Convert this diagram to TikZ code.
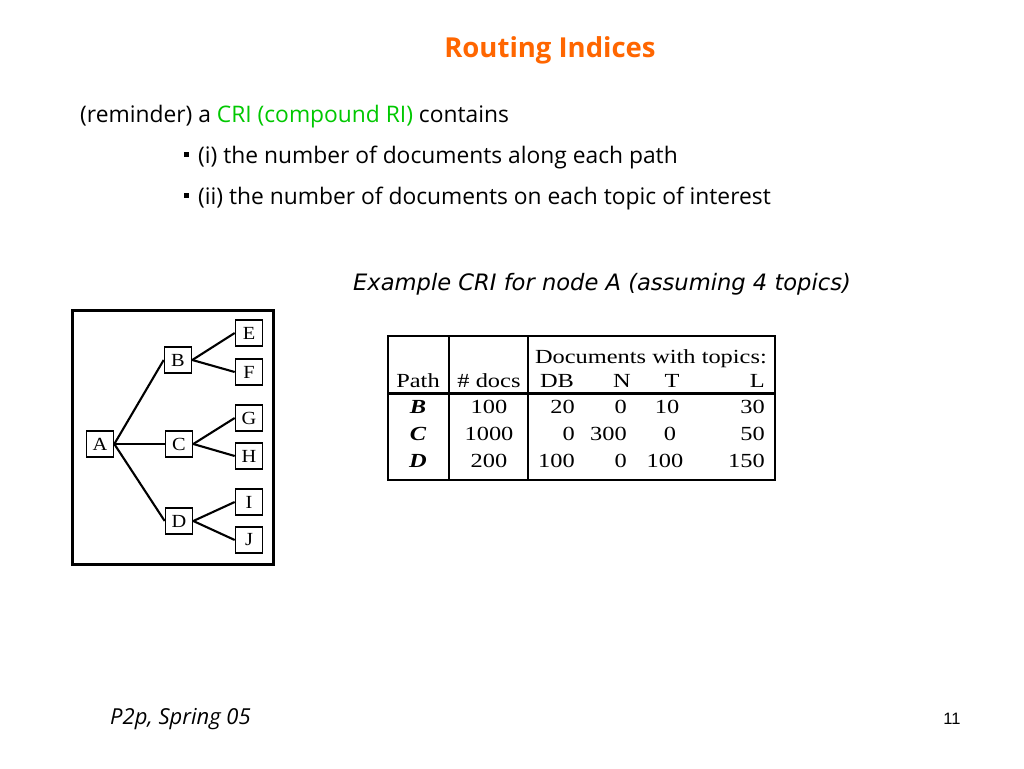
\documentclass[tikz,border=0pt]{standalone}
\usepackage{fontspec}
\setmainfont{Liberation Serif}
\newfontfamily\comicf{Open Sans}
\newfontfamily\tahf{DejaVu Sans}
\newfontfamily\arialf{Liberation Sans}
\definecolor{ttl}{RGB}{255,102,0}
\definecolor{grn}{RGB}{0,200,0}
\newcommand{\wid}[1]{\scalebox{1.22}[1]{#1}}
\begin{document}
\begin{tikzpicture}[x=1pt,y=-1pt,
  tnode/.style={draw,line width=1.6pt,minimum width=27pt,minimum height=26pt,inner sep=0pt,font=\fontsize{18.5}{18.5}\selectfont},
  tedge/.style={line width=2.1pt},
  cell/.style={inner sep=0pt,anchor=base,font=\fontsize{20}{20}\selectfont},
  cellr/.style={cell,anchor=base east},
  body/.style={inner sep=0pt,anchor=base west,font=\comicf\fontsize{22.8}{22.8}\selectfont},
  bul/.style={fill=black,minimum size=5pt,inner sep=0pt}]
\useasboundingbox[fill=white] (0,0) rectangle (1024,768);

% title
\node[inner sep=0pt,anchor=base,text=ttl,font=\comicf\bfseries\fontsize{27.5}{27.5}\selectfont] (title) at (550,57) {Routing Indices};

% body text
\node[body] (l1) at (80,122) {(reminder) a \textcolor{grn}{CRI (compound RI)} contains};
\node[bul] (b1) at (186,154) {};
\node[body] (l2) at (198,163) {(i) the number of documents along each path};
\node[bul] (b2) at (186,195) {};
\node[body] (l3) at (198,204) {(ii) the number of documents on each topic of interest};

\node[inner sep=0pt,anchor=base,font=\tahf\itshape\fontsize{22.6}{22.6}\selectfont] (ex) at (602,290) {Example CRI for node A (assuming 4 topics)};

% tree
\draw[line width=3pt] (72,310) rectangle (273,564);
\node[tnode] (A) at (100,444) {\scalebox{1.1}[1]{A}};
\node[tnode] (B) at (178,360) {\scalebox{1.1}[1]{B}};
\node[tnode] (C) at (179,444) {\scalebox{1.1}[1]{C}};
\node[tnode] (D) at (179,521) {\scalebox{1.1}[1]{D}};
\node[tnode] (E) at (249,333) {\scalebox{1.1}[1]{E}};
\node[tnode] (F) at (249,372) {\scalebox{1.1}[1]{F}};
\node[tnode] (G) at (249,418) {\scalebox{1.1}[1]{G}};
\node[tnode] (H) at (249,456) {\scalebox{1.1}[1]{H}};
\node[tnode] (I) at (249,502) {\scalebox{1.1}[1]{I}};
\node[tnode] (J) at (249,540) {\scalebox{1.1}[1]{J}};
\draw[tedge] (A.east) -- (B.west);
\draw[line width=1.1pt] (A.east) -- (C.west);
\draw[tedge] (A.east) -- (D.west);
\draw[tedge] (B.east) -- (E.west);
\draw[tedge] (B.east) -- (F.west);
\draw[tedge] (C.east) -- (G.west);
\draw[tedge] (C.east) -- (H.west);
\draw[tedge] (D.east) -- (I.west);
\draw[tedge] (D.east) -- (J.west);

% table
\draw[line width=2.2pt] (388,336) rectangle (775,480);
\draw[line width=1.4pt] (449,336) -- (449,480);
\draw[line width=2.4pt] (528,336) -- (528,480);
\draw[line width=3pt] (388,393) -- (775,393);
\node[cellr] (hdoc) at (767,363) {\wid{Documents with topics:}};
\node[cell] (hpath) at (418,387) {\wid{Path}};
\node[cell] (hdocs) at (489,387) {\wid{\# docs}};
\node[cell] (hdb) at (557,387) {\wid{DB}};
\node[cell] (hn) at (622,387) {\wid{N}};
\node[cell] (ht) at (672,387) {\wid{T}};
\node[cellr] (hl) at (765,387) {\wid{L}};
% rows
\node[cell] (p1) at (418,413) {\wid{\textbf{\textit{B}}}};
\node[cell] (p2) at (418,440) {\wid{\textbf{\textit{C}}}};
\node[cell] (p3) at (418,467) {\wid{\textbf{\textit{D}}}};
\node[cell] (d1) at (489,413) {\wid{100}};
\node[cell] (d2) at (489,440) {\wid{1000}};
\node[cell] (d3) at (489,467) {\wid{200}};
\node[cellr] (db1) at (575,413) {\wid{20}};
\node[cellr] (db2) at (575,440) {\wid{0}};
\node[cellr] (db3) at (575,467) {\wid{100}};
\node[cellr] (n1) at (627,413) {\wid{0}};
\node[cellr] (n2) at (627,440) {\wid{300}};
\node[cellr] (n3) at (627,467) {\wid{0}};
\node[cell] (t1) at (667,413) {\wid{10}};
\node[cell] (t2) at (670,440) {\wid{0}};
\node[cell] (t3) at (665,467) {\wid{100}};
\node[cellr] (lc1) at (765,413) {\wid{30}};
\node[cellr] (lc2) at (765,440) {\wid{50}};
\node[cellr] (lc3) at (765,467) {\wid{150}};

% footer
\node[inner sep=0pt,anchor=base west,font=\comicf\itshape\fontsize{22}{22}\selectfont] (foot) at (110,724) {P2p, Spring 05};
\node[inner sep=0pt,anchor=base,font=\arialf\fontsize{16.5}{16.5}\selectfont] (pg) at (952,724) {11};
\end{tikzpicture}
\end{document}
